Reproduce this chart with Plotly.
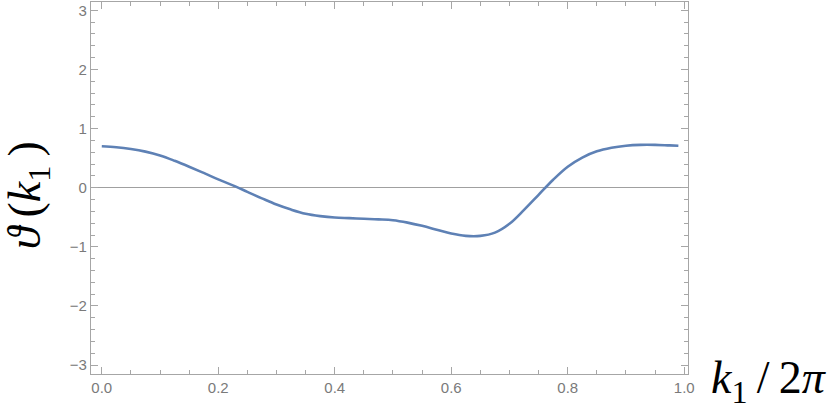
import plotly.graph_objects as go

k_over_2pi = [0.000, 0.025, 0.050, 0.075, 0.100, 0.125, 0.150, 0.175, 0.200, 0.225,
              0.250, 0.275, 0.300, 0.325, 0.350, 0.375, 0.400, 0.425, 0.450, 0.475,
              0.500, 0.525, 0.550, 0.575, 0.600, 0.625, 0.650, 0.675, 0.700, 0.725,
              0.750, 0.775, 0.800, 0.825, 0.850, 0.875, 0.900, 0.925, 0.950, 0.975,
              0.990]
theta = [0.70, 0.685, 0.655, 0.61, 0.545, 0.455, 0.355, 0.25, 0.14, 0.04,
         -0.07, -0.18, -0.285, -0.37, -0.44, -0.48, -0.505, -0.515, -0.525, -0.535,
         -0.55, -0.59, -0.645, -0.71, -0.775, -0.815, -0.815, -0.76, -0.61, -0.375,
         -0.12, 0.135, 0.355, 0.51, 0.615, 0.675, 0.71, 0.725, 0.725, 0.715,
         0.71]

x_ticks = [0.0, 0.2, 0.4, 0.6, 0.8, 1.0]
x_tick_labels = ["0.0", "0.2", "0.4", "0.6", "0.8", "1.0"]
y_ticks = [-3, -2, -1, 0, 1, 2, 3]
y_tick_labels = ["\u22123", "\u22122", "\u22121", "0", "1", "2", "3"]

frame_col = "#a6a6a6"
tick_font = dict(family="Liberation Sans, Arial, sans-serif", size=15, color="#7a7a7a")

fig = go.Figure()
fig.add_trace(go.Scatter(
    x=k_over_2pi, y=theta, mode="lines",
    line=dict(color="#5E81B5", width=2.6, shape="spline", smoothing=1.0),
    showlegend=False, hoverinfo="skip"))

fig.update_xaxes(
    range=[-0.0185, 1.0065], showgrid=False, zeroline=False,
    showline=True, linecolor=frame_col, linewidth=1.2, mirror="ticks",
    ticks="inside", ticklen=7, tickwidth=1, tickcolor=frame_col,
    tickvals=x_ticks, ticktext=x_tick_labels, tickfont=tick_font,
    minor=dict(ticks="inside", ticklen=4, tickwidth=1, tickcolor=frame_col,
               dtick=0.05, tick0=0, showgrid=False),
)
fig.update_yaxes(
    range=[-3.15, 3.14], showgrid=False, zeroline=True,
    zerolinecolor="#a0a0a0", zerolinewidth=1,
    showline=True, linecolor=frame_col, linewidth=1.2, mirror="ticks",
    ticks="inside", ticklen=7, tickwidth=1, tickcolor=frame_col,
    tickvals=y_ticks, ticktext=y_tick_labels, tickfont=tick_font,
    minor=dict(ticks="inside", ticklen=4, tickwidth=1, tickcolor=frame_col,
               dtick=0.2, tick0=0, showgrid=False),
)

fig.add_annotation(
    text="<i>\u03d1</i>\u2009(<i>k</i><sub>1</sub>\u2009)", textangle=-90,
    xref="paper", yref="paper", x=-0.104, y=0.48, xanchor="center", yanchor="middle",
    showarrow=False, font=dict(family="Liberation Serif, DejaVu Serif, serif", size=46, color="black"))
fig.add_annotation(
    text="<i>k</i><sub>1</sub>\u2009/\u20092<i>\u03c0</i>",
    xref="paper", yref="paper", x=1.036, y=-0.018, xanchor="left", yanchor="middle",
    showarrow=False, font=dict(family="Liberation Serif, DejaVu Serif, serif", size=46, color="black"))

fig.update_layout(
    width=830, height=407,
    margin=dict(l=91, r=142, t=2, b=33),
    plot_bgcolor="white", paper_bgcolor="white",
)

fig.write_html("out.html", config={"displayModeBar": False},
               post_script="document.body.style.margin='0';")
